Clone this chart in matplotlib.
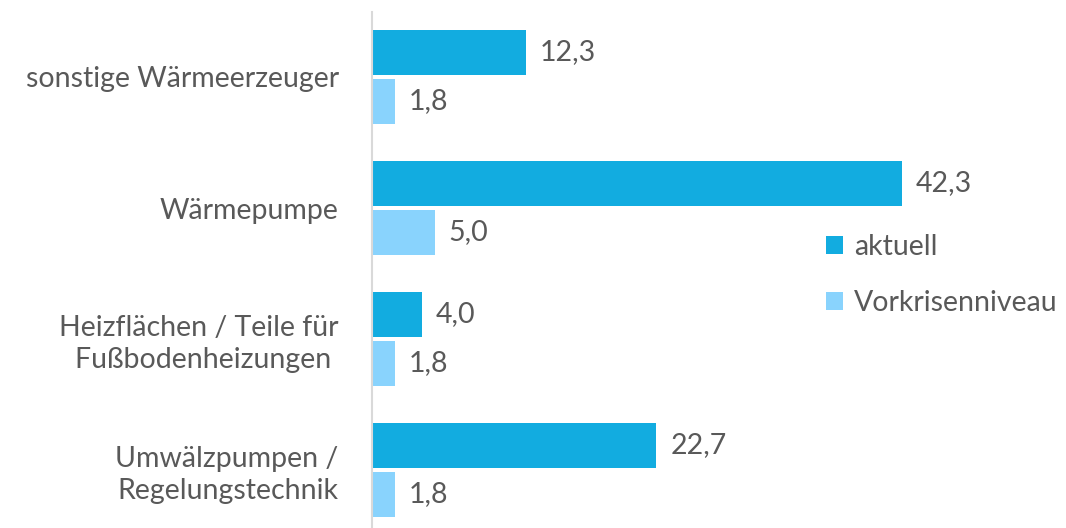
import matplotlib.pyplot as plt
import numpy as np

plt.rcParams['font.family'] = ['Lato', 'DejaVu Sans']

kategorien = ['sonstige Wärmeerzeuger', 'Wärmepumpe',
              'Heizflächen / Teile für\nFußbodenheizungen ',
              'Umwälzpumpen /\nRegelungstechnik']
aktuell = [12.3, 42.3, 4.0, 22.7]
vorkrise = [1.8, 5.0, 1.8, 1.8]

farbe_akt = '#12ACE0'
farbe_vor = '#89D3FD'
grau = '#595959'
fs = 20.5

fig = plt.figure(figsize=(10.66, 5.28), dpi=100)
ax = fig.add_axes([372 / 1066, -7.5 / 528, 1 - 372 / 1066, 524 / 528])

y = np.arange(len(kategorien))
h = 0.336
ax.barh(y - 0.187, aktuell, height=h, color=farbe_akt, label='aktuell')
ax.barh(y + 0.187, vorkrise, height=h, color=farbe_vor, label='Vorkrisenniveau')

for i in range(len(kategorien)):
    ax.text(aktuell[i] + 1.1, y[i] - 0.187, f'{aktuell[i]:.1f}'.replace('.', ','),
            va='center', ha='left', fontsize=fs, color=grau)
    ax.text(vorkrise[i] + 1.1, y[i] + 0.187, f'{vorkrise[i]:.1f}'.replace('.', ','),
            va='center', ha='left', fontsize=fs, color=grau)

ax.set_xlim(0, (1066 - 372) / 12.53)
ax.set_ylim(3.5, -0.5)
ax.set_yticks(y)
ax.set_yticklabels(kategorien, fontsize=fs, color=grau, linespacing=1.25)
ax.tick_params(axis='y', length=0, pad=24)
ax.set_xticks([])
for s in ['top', 'right', 'bottom']:
    ax.spines[s].set_visible(False)
ax.spines['left'].set_color('#D9D9D9')
ax.spines['left'].set_linewidth(1.5)

ax.legend(loc='upper left', bbox_to_anchor=(434 / 694, 1 - 203 / 524), frameon=False,
          fontsize=fs, labelcolor=grau, handlelength=0.6, handleheight=0.6,
          handletextpad=0.4, labelspacing=1.05, borderpad=0.2)

plt.savefig('out.png', dpi=100)
